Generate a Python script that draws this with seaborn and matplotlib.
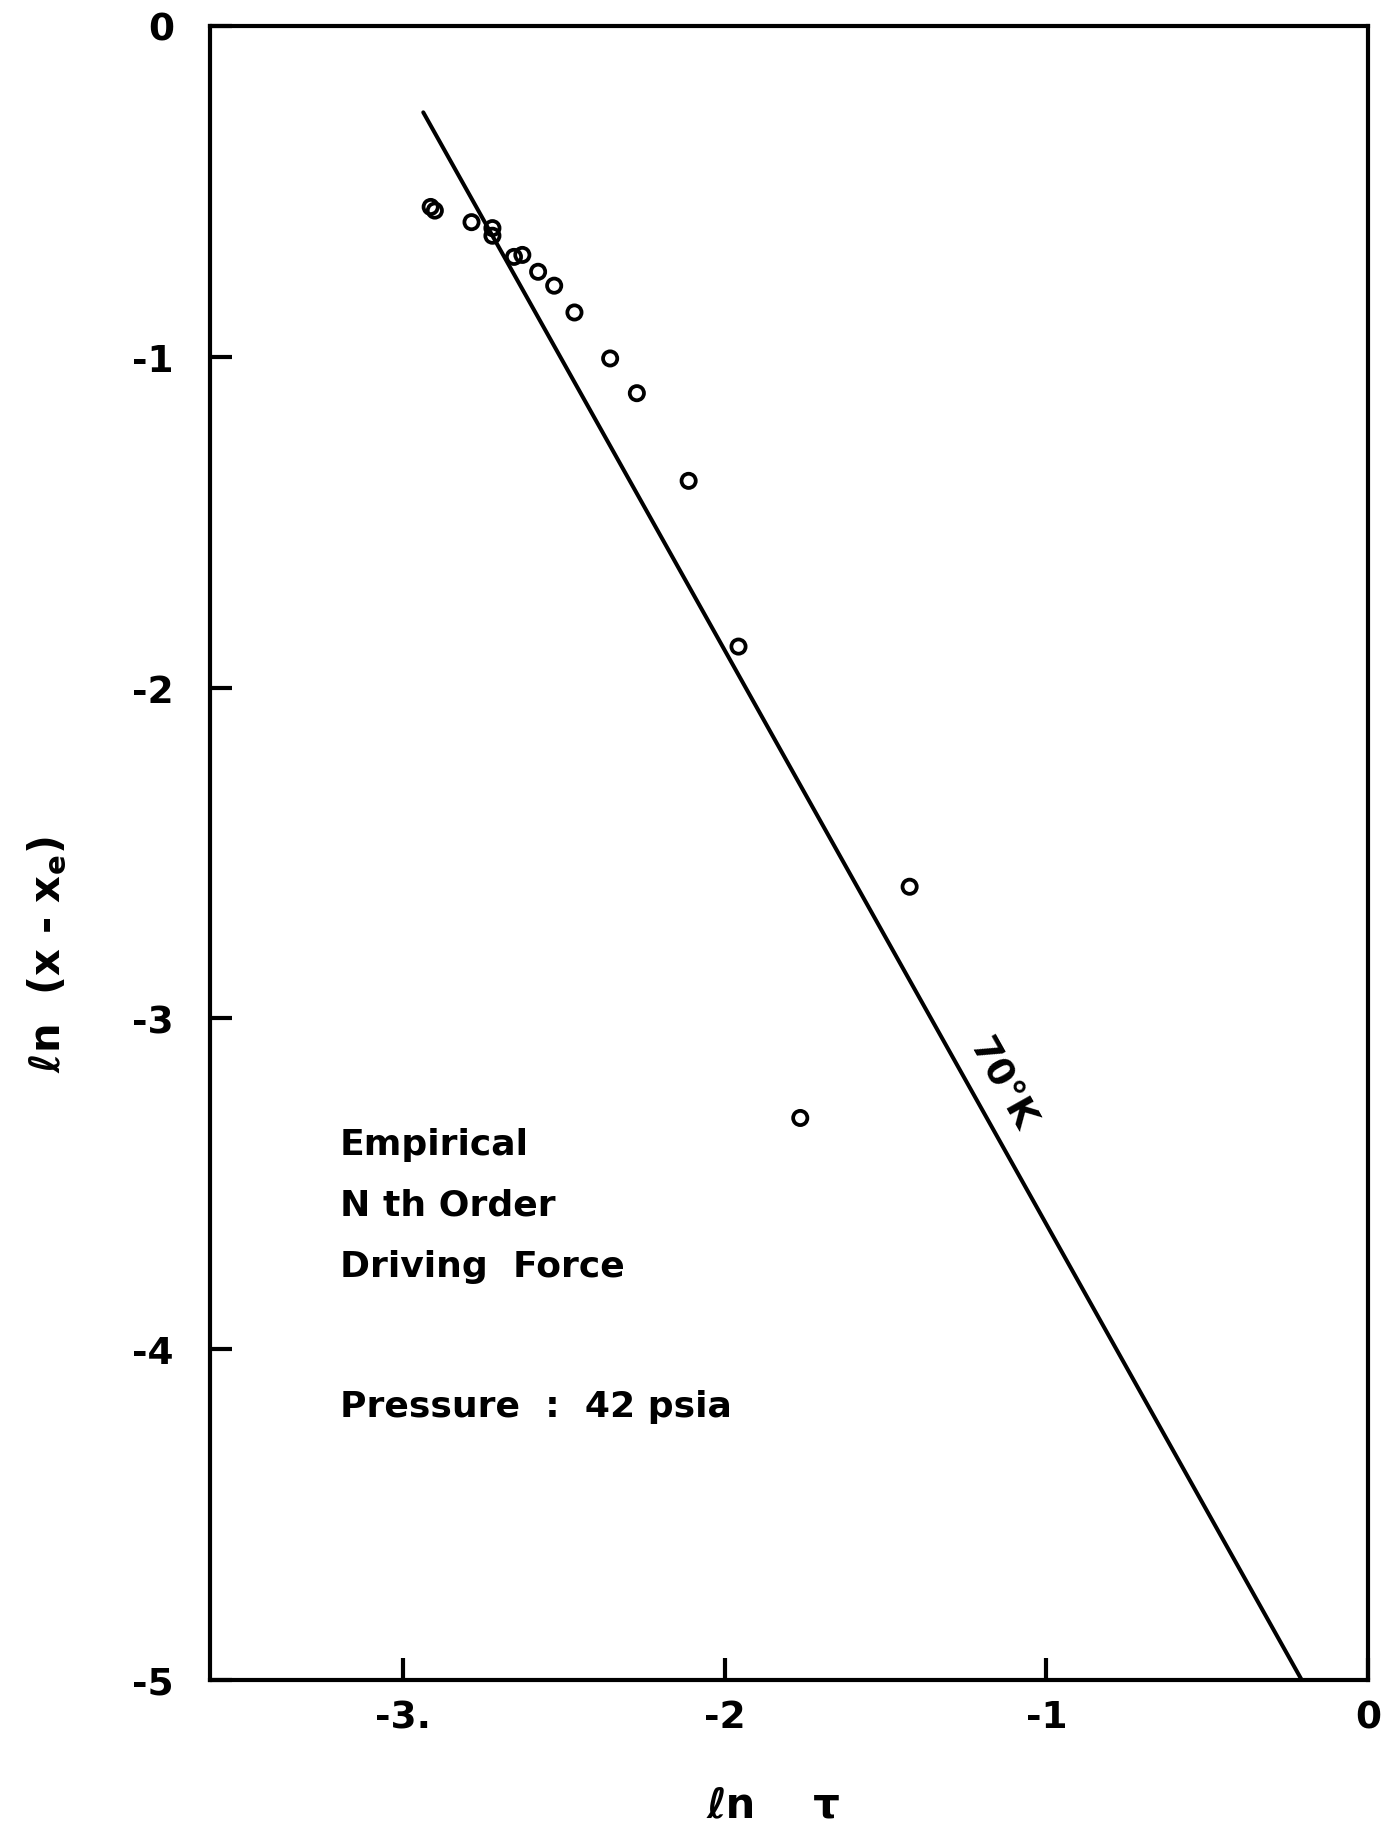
import numpy as np
import pandas as pd
import matplotlib
matplotlib.use("Agg")
import matplotlib.pyplot as plt
import seaborn as sns

# Measured points: ln(tau) vs ln(x - x_e)
ln_tau = [-2.914, -2.901, -2.787, -2.722, -2.722, -2.655, -2.629, -2.580,
          -2.530, -2.467, -2.356, -2.273, -2.112, -1.957, -1.425, -1.765]
ln_dx = [-0.547, -0.558, -0.593, -0.611, -0.634, -0.698, -0.692, -0.743,
         -0.785, -0.866, -1.005, -1.110, -1.375, -1.876, -2.602, -3.301]

# Empirical nth-order driving-force line at 70 K
fit_tau = [-2.937, -0.206]
fit_dx = [-0.261, -5.0]
fit_label = "70°K"
fit_label_pos = (-1.139, -3.198)

x_ticks = [-3, -2, -1, 0]
x_tick_labels = ["-3.", "-2", "-1", "0"]
y_ticks = [0, -1, -2, -3, -4, -5]
y_tick_labels = ["0", "-1", "-2", "-3", "-4", "-5"]

note_lines = ["Empirical", "N th Order", "Driving  Force"]
pressure_note = "Pressure  :  42 psia"

pts = pd.DataFrame({"ln_tau": ln_tau, "ln_dx": ln_dx})
fit = pd.DataFrame({"ln_tau": fit_tau, "ln_dx": fit_dx})

sns.set_theme(style="white")
plt.rcParams["font.family"] = ["DejaVu Sans"]
plt.rcParams["mathtext.default"] = "regular"
plt.rcParams["text.color"] = "black"
plt.rcParams["axes.labelcolor"] = "black"

W, H = 1384, 1833
fig = plt.figure(figsize=(W / 100, H / 100), dpi=100)
ax_l, ax_r, ax_t, ax_b = 210, 1368, 27, 1681
ax = fig.add_axes([ax_l / W, (H - ax_b) / H, (ax_r - ax_l) / W, (ax_b - ax_t) / H])

sns.lineplot(data=fit, x="ln_tau", y="ln_dx", sort=False, color="black",
             linewidth=2.9, ax=ax, legend=False)
sns.scatterplot(data=pts, x="ln_tau", y="ln_dx", ax=ax, marker="o",
                s=105, facecolor="none", edgecolor="black", linewidth=2.7,
                legend=False, zorder=3)

ax.set_xlim(-3.6, 0)
ax.set_ylim(-5, 0)
ax.set_xticks(x_ticks)
ax.set_xticklabels(x_tick_labels)
ax.set_yticks(y_ticks)
ax.set_yticklabels(y_tick_labels)

for s in ax.spines.values():
    s.set_visible(True)
    s.set_color("black")
    s.set_linewidth(3.0)

ax.tick_params(axis="both", which="major", bottom=True, left=True,
               direction="in", length=16, width=3, color="black",
               labelsize=27, labelcolor="black")
ax.tick_params(axis="x", pad=14)
ax.tick_params(axis="y", pad=26)
for lab in ax.get_xticklabels() + ax.get_yticklabels():
    lab.set_fontweight("bold")

ax.set_xlabel("ℓn    τ", fontsize=30, fontweight="bold", color="black")
ax.xaxis.set_label_coords(0.487, -0.075)
ax.xaxis.label.set_va("center")
ax.set_ylabel("ℓn  (x - x$_e$)", fontsize=30, fontweight="bold", color="black")
ax.yaxis.set_label_coords(-0.140, 0.439)
ax.yaxis.label.set_va("center")

# Notes inside the plot area
for txt, yb in zip(note_lines, [0.318, 0.2817, 0.2443]):
    ax.text(0.1123, yb, txt, transform=ax.transAxes, fontsize=26,
            fontweight="bold", ha="left", va="baseline", color="black")
ax.text(0.1123, 0.1596, pressure_note, transform=ax.transAxes, fontsize=26,
        fontweight="bold", ha="left", va="baseline", color="black")

# Curve label aligned with the line on screen
p0 = ax.transData.transform((fit_tau[0], fit_dx[0]))
p1 = ax.transData.transform((fit_tau[1], fit_dx[1]))
ang = np.degrees(np.arctan2(p1[1] - p0[1], p1[0] - p0[0]))
ax.text(fit_label_pos[0], fit_label_pos[1], fit_label, fontsize=27,
        fontweight="bold", rotation=ang, rotation_mode="anchor",
        ha="center", va="center", color="black")

fig.savefig("out.png", dpi=100, facecolor="white")
